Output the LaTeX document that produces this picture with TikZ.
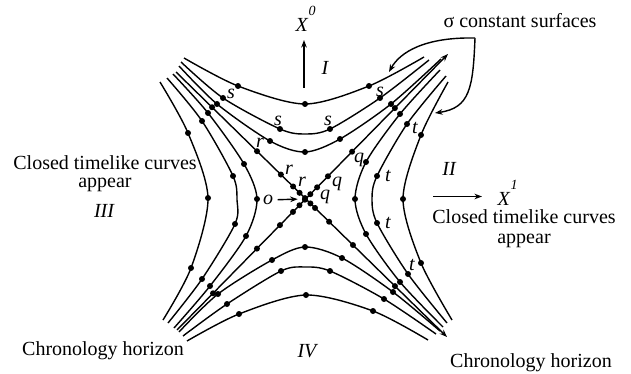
\documentclass[tikz,border=0pt]{standalone}
\usepackage{fontspec}
\setmainfont{Liberation Serif}
\usetikzlibrary{arrows.meta,calc}

\begin{document}
\begin{tikzpicture}[x=0.5pt, y=-0.5pt, line width=0.7pt,
    lbl/.style={font=\itshape, inner sep=0pt},
    txt/.style={inner sep=0pt, align=center},
    >={Stealth[length=3.8pt, width=2.8pt]}]
    \useasboundingbox (0,0) rectangle (631,374);

    % Light cone diagonals
    \coordinate (a1) at (177,330);
    \coordinate (a2) at (448,54);
    \coordinate (b1) at (176,72);
    \coordinate (b2) at (447,337);
    \draw[->] (a1) -- (a2);
    \draw[->] (b1) -- (b2);
    \coordinate (O) at (intersection of a1--a2 and b1--b2);
    \foreach \p in {0.133,0.295,0.380,0.428,0.452,0.472,0.492,0.517,0.557,0.646,0.804}
        \fill ($(a1)!\p!(a2)$) circle (1.5pt);
    \foreach \p in {0.133,0.299,0.387,0.432,0.456,0.476,0.496,0.513,0.565,0.653,0.808}
        \fill ($(b1)!\p!(b2)$) circle (1.5pt);

    % Region I
    \draw plot[smooth] coordinates {(184,58) (238,86) (305,104) (369,86) (424,57)};
    \draw plot[smooth] coordinates {(181,62) (223,98) (280,129) (305,134) (330,129) (380,98) (429,60)};
    \draw plot[smooth] coordinates {(179,66) (217,104) (270,141) (305,152) (340,139) (391,104) (441,59)};
    \foreach \x/\y in {238/86, 305/104, 369/86, 223/98, 280/129, 330/129, 380/98,
                       217/104, 270/141, 305/152, 340/139, 391/104}
        \fill (\x,\y) circle (1.5pt);

    % Region II
    \draw plot[smooth] coordinates {(440,70) (400,114) (366,162) (355,199) (366,234) (400,282) (443,327)};
    \draw plot[smooth] coordinates {(446,76) (407,124) (377,176) (372,199) (377,223) (408,274) (447,323)};
    \draw plot[smooth] coordinates {(448,82) (421,135) (403,199) (421,263) (452,320)};
    \foreach \x/\y in {400/114, 366/162, 355/199, 366/234, 400/282, 407/124, 377/176,
                       377/223, 408/274, 421/135, 403/199, 421/263}
        \fill (\x,\y) circle (1.5pt);

    % Region III
    \draw plot[smooth] coordinates {(160,82) (188,133) (208,198) (191,268) (163,320)};
    \draw plot[smooth] coordinates {(167,78) (202,121) (233,176) (237,200) (235,224) (202,279) (168,323)};
    \draw plot[smooth] coordinates {(173,74) (208,113) (244,164) (257,199) (246,236) (210,286) (174,328)};
    \foreach \x/\y in {188/133, 208/198, 191/268, 202/121, 233/176, 235/224, 202/279,
                       208/113, 244/164, 257/199, 246/236, 210/286}
        \fill (\x,\y) circle (1.5pt);

    % Region IV
    \draw plot[smooth] coordinates {(187,341) (239,314) (306,295) (373,311) (428,340)};
    \draw plot[smooth] coordinates {(183,336) (227,304) (281,271) (305,267) (330,271) (384,299) (436,334)};
    \draw plot[smooth] coordinates {(179,332) (218,294) (272,260) (305,247) (342,258) (393,292) (440,331)};
    \foreach \x/\y in {239/314, 306/295, 373/311, 227/304, 281/271, 330/271, 384/299,
                       218/294, 272/260, 305/247, 342/258, 393/292}
        \fill (\x,\y) circle (1.5pt);

    % Labels on the curves
    \node[lbl] (s1) at (231,94) {s};
    \node[lbl] (s2) at (278,121) {s};
    \node[lbl] (s3) at (328,121) {s};
    \node[lbl] (s4) at (380,92) {s};
    \node[lbl] (r1) at (260,143) {r};
    \node[lbl] (r2) at (289,170) {r};
    \node[lbl] (r3) at (302,182) {r};
    \node[lbl] (q1) at (325,197) {q};
    \node[lbl] (q2) at (337,184) {q};
    \node[lbl] (q3) at (359,160) {q};
    \node[lbl] (t1) at (415,128) {t};
    \node[lbl] (t2) at (388,176) {t};
    \node[lbl] (t3) at (388,223) {t};
    \node[lbl] (t4) at (412,265) {t};
    \node[lbl] (o) at (268,200) {o};
    \draw[->, shorten <=2pt, shorten >=4pt] (o) -- (O);

    % Region names
    \node[lbl, anchor=base] (I) at (325,75) {I};
    \node[lbl, anchor=base] (II) at (449,175) {II};
    \node[lbl, anchor=base] (III) at (104,217) {III};
    \node[lbl, anchor=base] (IV) at (307,357) {IV};

    % Axes
    \node[anchor=base west, inner sep=0pt] (X0) at (295,32)
        {\textit{X}\raisebox{8pt}{\fontsize{7}{7}\selectfont\textit{0}}};
    \coordinate (x0a) at (304,88);
    \coordinate (x0b) at (304,40);
    \draw[->] (x0a) -- (x0b);
    \node[anchor=base west, inner sep=0pt] (X1) at (497,205)
        {\textit{X}\raisebox{8pt}{\fontsize{7}{7}\selectfont\textit{1}}};
    \coordinate (x1a) at (433,196.5);
    \coordinate (x1b) at (482,196.5);
    \draw[->] (x1a) -- (x1b);

    % Side texts
    \node[txt, anchor=north, font=\fontsize{10}{9}\selectfont] (ctcL) at (105,155)
        {Closed timelike curves\\appear};
    \node[txt, anchor=north, font=\fontsize{10}{10}\selectfont] (ctcR) at (524,209)
        {Closed timelike curves\\appear};
    \node[anchor=base, inner sep=0pt] (chL) at (103,355) {Chronology horizon};
    \node[anchor=base, inner sep=0pt] (chR) at (531,367) {Chronology horizon};

    % Sigma constant surfaces
    \node[anchor=base, inner sep=0pt] (sig) at (520,27.5) {σ constant surfaces};
    \coordinate (sb) at (475,38);
    \coordinate (sL) at (389,72);
    \coordinate (sR) at (435,113);
    \draw[->] (sb) .. controls (425,37) and (400,52) .. (sL);
    \draw[->] (sb) .. controls (473,88) and (470,108) .. (sR);
\end{tikzpicture}
\end{document}
